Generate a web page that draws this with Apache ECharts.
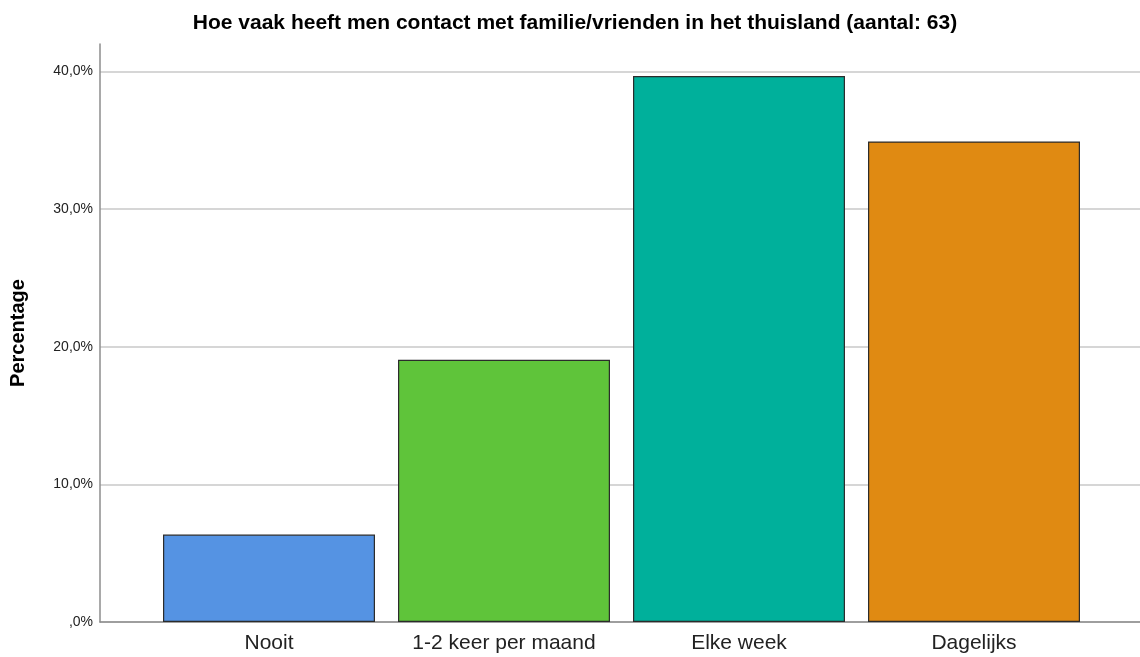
<!DOCTYPE html>
<html>
<head>
<meta charset="utf-8">
<script src="https://cdn.jsdelivr.net/npm/echarts@6/dist/echarts.min.js"></script>
<style>
  html, body { margin: 0; padding: 0; background: #fff; }
  #main { width: 1140px; height: 657px; }
</style>
</head>
<body>
<div id="main"></div>
<script>
// antwoordcategorieen en percentages (n = 63)
const categories = ['Nooit', '1-2 keer per maand', 'Elke week', 'Dagelijks'];
const percentages = [6.35, 19.05, 39.68, 34.92];
const barColors = ['#5593e3', '#5fc43a', '#00b09b', '#e08a12'];

const chart = echarts.init(document.getElementById('main'));

const font = '"Liberation Sans", Arial, sans-serif';
const yMax = 42;

var option = {
  backgroundColor: '#ffffff',
  animation: false,
  title: {
    text: 'Hoe vaak heeft men contact met familie/vrienden in het thuisland (aantal: 63)',
    left: 570,
    textAlign: 'center',
    top: 8,
    textStyle: { fontFamily: font, fontSize: 21, fontWeight: 'bold', color: '#000' }
  },
  grid: [
    // assen + rasterlijnen
    { left: 99, right: 0, top: 44, bottom: 35 },
    // staven
    { left: 151.5, right: 48.5, top: 44, bottom: 35 }
  ],
  xAxis: [
    {
      gridIndex: 0,
      type: 'category',
      data: [''],
      axisLine: { lineStyle: { color: '#8c8c8c', width: 1.5 } },
      axisTick: { show: false },
      axisLabel: { show: false }
    },
    {
      gridIndex: 1,
      type: 'category',
      data: categories,
      axisLine: { show: false },
      axisTick: { show: false },
      axisLabel: { interval: 0, fontFamily: font, fontSize: 21, color: '#222', margin: 11 }
    }
  ],
  yAxis: [
    {
      gridIndex: 0,
      type: 'value',
      min: 0,
      max: yMax,
      interval: 10,
      name: 'Percentage',
      nameLocation: 'middle',
      nameGap: 72,
      nameTextStyle: { fontFamily: font, fontSize: 20, fontWeight: 'bold', color: '#000' },
      axisLine: { show: true, lineStyle: { color: '#8c8c8c', width: 1.5 } },
      axisTick: { show: false },
      splitLine: { showMaxLine: false, lineStyle: { color: '#c8c8c8', width: 1.5 } },
      axisLabel: {
        fontFamily: font, fontSize: 14, color: '#222', margin: 7,
        formatter: function (v) {
          if (v > yMax - 1) return '';
          return v === 0 ? ',0%' : v.toFixed(1).replace('.', ',') + '%';
        }
      }
    },
    {
      gridIndex: 1,
      type: 'value',
      min: 0,
      max: yMax,
      show: false
    }
  ],
  series: [{
    type: 'bar',
    xAxisIndex: 1,
    yAxisIndex: 1,
    barCategoryGap: '9.8%',
    data: percentages.map(function (v, i) {
      return { value: v, itemStyle: { color: barColors[i] } };
    }),
    itemStyle: { borderColor: '#2b2b2b', borderWidth: 1.2 }
  }]
};

chart.setOption(option);
</script>
</body>
</html>
